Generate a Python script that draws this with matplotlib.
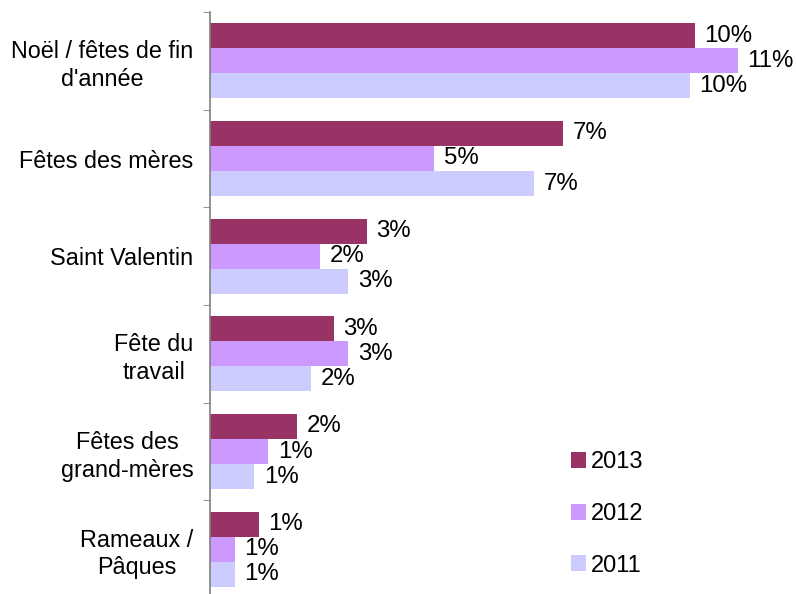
import matplotlib.pyplot as plt
from matplotlib.patches import Patch
import numpy as np

plt.rcParams['font.family'] = ['Liberation Sans', 'DejaVu Sans']

categories = ["Noël / fêtes de fin\nd'année", "Fêtes des mères", "Saint Valentin",
              "Fête du\ntravail", "Fêtes des\ngrand-mères", "Rameaux /\nPâques"]
years = ["2013", "2012", "2011"]
v2013 = [10.1, 7.35, 3.27, 2.58, 1.81, 1.02]
v2012 = [11.0, 4.67, 2.29, 2.88, 1.21, 0.52]
v2011 = [10.0, 6.75, 2.88, 2.10, 0.92, 0.52]
colors = ["#993366", "#CC99FF", "#CCCCFF"]

fig = plt.figure(figsize=(7.96, 5.94), dpi=100)
ax = fig.add_axes([210 / 796, -4 / 594, 586 / 796, 586 / 594])

y = np.arange(len(categories))
h = 0.256
for k, vals in enumerate([v2013, v2012, v2011]):
    pos = y + (k - 1) * h
    ax.barh(pos, vals, height=h, color=colors[k], edgecolor='none')
    for p, v in zip(pos, vals):
        ax.text(v + 0.2, p, f"{v:.0f}%", va='center', ha='left', fontsize=17.3)

ax.set_ylim(len(categories) - 0.5, -0.5)
ax.set_xlim(0, 586 / 48)

ax.set_yticks(y)
ax.set_yticklabels(categories, fontsize=16.8, multialignment='center', linespacing=1.25)
ax.set_yticks(np.arange(len(categories) + 1) - 0.5, minor=True)
ax.tick_params(axis='y', which='major', length=0, pad=12)
ax.tick_params(axis='y', which='minor', length=5, color='#808080', direction='out')
ax.set_xticks([])
for s in ['top', 'right', 'bottom']:
    ax.spines[s].set_visible(False)
ax.spines['left'].set_color('#808080')
ax.spines['left'].set_linewidth(1.2)

handles = [Patch(facecolor=c, edgecolor='none') for c in colors]
fig.legend(handles, years, loc='center left', bbox_to_anchor=(571 / 796, 1 - 514 / 594),
           frameon=False, fontsize=17, handlelength=0.65, handleheight=0.65,
           handletextpad=0.2, labelspacing=1.25, borderpad=0, borderaxespad=0)

fig.savefig('out.png', dpi=100)
